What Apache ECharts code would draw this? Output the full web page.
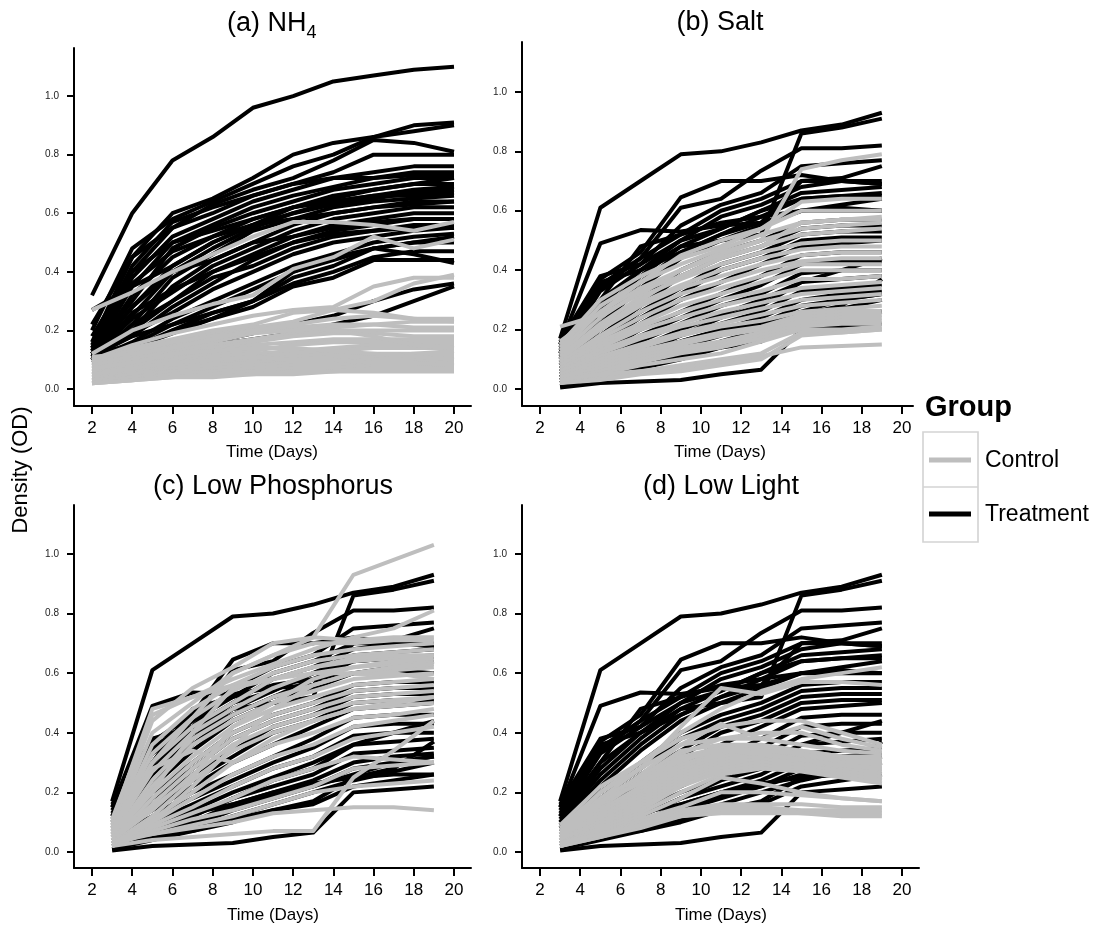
<!DOCTYPE html>
<html><head><meta charset="utf-8">
<script src="https://cdn.jsdelivr.net/npm/echarts@6/dist/echarts.min.js"></script>
<style>html,body{margin:0;padding:0;background:#fff}#c{width:1097px;height:928px}</style>
</head><body><div id="c"></div>
<script>
// ---------- data ----------
const daysA = [2,4,6,8,10,12,14,16,18,20];
const daysBCD = [3,5,7,9,11,13,15,17,19];
const xTicks = [2,4,6,8,10,12,14,16,18,20];
const yTicks = [0,0.2,0.4,0.6,0.8,1.0];
const panelTitles = ['(a) NH', '(b) Salt', '(c) Low Phosphorus', '(d) Low Light'];
const groupNames = ['Control', 'Treatment'];

const treatA = [
 [0.32,0.60,0.78,0.86,0.96,1.00,1.05,1.07,1.09,1.10],
 [0.22,0.45,0.60,0.65,0.72,0.80,0.84,0.86,0.90,0.91],
 [0.20,0.48,0.58,0.64,0.70,0.76,0.80,0.86,0.88,0.90],
 [0.18,0.40,0.55,0.63,0.68,0.72,0.78,0.85,0.84,0.81],
 [0.15,0.42,0.57,0.62,0.66,0.70,0.74,0.80,0.80,0.80],
 [0.14,0.38,0.52,0.58,0.64,0.68,0.72,0.74,0.76,0.76],
 [0.12,0.35,0.50,0.56,0.62,0.66,0.69,0.72,0.74,0.74],
 [0.13,0.30,0.48,0.55,0.60,0.64,0.68,0.70,0.72,0.72],
 [0.12,0.32,0.45,0.52,0.58,0.62,0.66,0.68,0.70,0.70],
 [0.11,0.28,0.42,0.50,0.56,0.60,0.64,0.66,0.68,0.69],
 [0.10,0.25,0.40,0.48,0.55,0.60,0.63,0.65,0.67,0.68],
 [0.10,0.22,0.38,0.46,0.54,0.58,0.62,0.64,0.65,0.66],
 [0.12,0.20,0.35,0.44,0.50,0.56,0.60,0.62,0.64,0.64],
 [0.11,0.24,0.33,0.42,0.48,0.54,0.58,0.60,0.62,0.62],
 [0.10,0.20,0.30,0.40,0.46,0.52,0.56,0.58,0.60,0.60],
 [0.12,0.18,0.28,0.36,0.44,0.50,0.54,0.56,0.58,0.58],
 [0.10,0.22,0.30,0.38,0.42,0.48,0.52,0.54,0.56,0.56],
 [0.11,0.19,0.26,0.34,0.40,0.46,0.50,0.52,0.54,0.55],
 [0.10,0.16,0.24,0.30,0.36,0.42,0.46,0.50,0.52,0.53],
 [0.12,0.15,0.22,0.28,0.34,0.40,0.45,0.48,0.50,0.50],
 [0.11,0.14,0.20,0.26,0.30,0.36,0.40,0.45,0.47,0.47],
 [0.12,0.14,0.19,0.24,0.28,0.35,0.38,0.44,0.44,0.44],
 [0.10,0.13,0.20,0.24,0.30,0.40,0.44,0.48,0.46,0.43],
 [0.09,0.12,0.14,0.16,0.19,0.22,0.25,0.30,0.34,0.36],
 [0.27,0.35,0.42,0.50,0.56,0.62,0.65,0.68,0.70,0.72],
 [0.16,0.45,0.55,0.60,0.66,0.70,0.72,0.72,0.73,0.73],
 [0.14,0.36,0.47,0.52,0.56,0.58,0.60,0.62,0.63,0.64],
 [0.13,0.40,0.50,0.54,0.58,0.62,0.64,0.66,0.66,0.67],
 [0.12,0.28,0.40,0.44,0.50,0.52,0.55,0.57,0.58,0.58],
 [0.10,0.26,0.34,0.40,0.45,0.50,0.53,0.54,0.55,0.55],
 [0.11,0.18,0.22,0.26,0.30,0.38,0.42,0.48,0.50,0.52],
 [0.09,0.11,0.13,0.15,0.17,0.19,0.22,0.25,0.30,0.35]
];

const ctrlA = [
 [0.27,0.33,0.40,0.46,0.52,0.57,0.57,0.56,0.54,0.57],
 [0.12,0.20,0.25,0.29,0.32,0.41,0.45,0.52,0.48,0.51],
 [0.10,0.15,0.19,0.22,0.25,0.27,0.28,0.35,0.38,0.38],
 [0.08,0.12,0.16,0.19,0.21,0.23,0.27,0.30,0.36,0.39],
 [0.10,0.14,0.17,0.20,0.22,0.26,0.27,0.26,0.24,0.24],
 [0.09,0.13,0.15,0.18,0.20,0.22,0.24,0.25,0.24,0.23],
 [0.08,0.11,0.14,0.16,0.19,0.21,0.22,0.22,0.21,0.21],
 [0.07,0.10,0.13,0.15,0.17,0.19,0.20,0.20,0.20,0.20],
 [0.06,0.09,0.12,0.14,0.16,0.18,0.19,0.19,0.18,0.18],
 [0.06,0.08,0.11,0.13,0.15,0.16,0.17,0.17,0.17,0.17],
 [0.05,0.08,0.10,0.12,0.13,0.15,0.16,0.16,0.16,0.16],
 [0.05,0.07,0.09,0.11,0.12,0.13,0.14,0.15,0.15,0.15],
 [0.04,0.06,0.08,0.10,0.11,0.12,0.13,0.14,0.14,0.14],
 [0.04,0.06,0.08,0.09,0.10,0.11,0.12,0.12,0.12,0.13],
 [0.03,0.05,0.07,0.08,0.09,0.10,0.11,0.11,0.12,0.12],
 [0.03,0.05,0.06,0.07,0.08,0.09,0.10,0.10,0.11,0.11],
 [0.03,0.04,0.06,0.07,0.08,0.09,0.09,0.10,0.10,0.10],
 [0.02,0.04,0.05,0.06,0.07,0.08,0.08,0.09,0.09,0.09],
 [0.02,0.03,0.05,0.05,0.06,0.07,0.07,0.08,0.08,0.08],
 [0.02,0.03,0.04,0.05,0.05,0.06,0.06,0.07,0.07,0.07],
 [0.02,0.03,0.04,0.04,0.05,0.05,0.06,0.06,0.06,0.06],
 [0.10,0.13,0.16,0.18,0.19,0.20,0.21,0.22,0.23,0.23],
 [0.11,0.12,0.14,0.17,0.20,0.22,0.20,0.18,0.15,0.14],
 [0.07,0.09,0.12,0.13,0.14,0.14,0.13,0.12,0.11,0.10],
 [0.05,0.07,0.09,0.10,0.11,0.10,0.10,0.09,0.09,0.08]
];

const treatBCD = [
 [0.17,0.61,0.70,0.79,0.80,0.83,0.87,0.89,0.93],
 [0.15,0.49,0.535,0.53,0.55,0.56,0.70,0.70,0.69],
 [0.12,0.30,0.40,0.48,0.50,0.52,0.86,0.88,0.91],
 [0.005,0.02,0.025,0.03,0.05,0.065,0.20,0.21,0.22],
 [0.14,0.37,0.46,0.645,0.70,0.70,0.72,0.70,0.69],
 [0.13,0.35,0.44,0.61,0.64,0.735,0.81,0.81,0.82],
 [0.12,0.33,0.42,0.55,0.62,0.66,0.75,0.76,0.77],
 [0.11,0.30,0.48,0.52,0.60,0.64,0.70,0.71,0.75],
 [0.10,0.28,0.40,0.50,0.58,0.62,0.68,0.70,0.70],
 [0.10,0.26,0.38,0.48,0.54,0.60,0.66,0.67,0.68],
 [0.09,0.24,0.36,0.46,0.52,0.58,0.64,0.65,0.65],
 [0.08,0.22,0.34,0.44,0.50,0.55,0.60,0.60,0.60],
 [0.08,0.20,0.30,0.40,0.46,0.50,0.56,0.57,0.57],
 [0.07,0.18,0.28,0.38,0.44,0.48,0.54,0.55,0.55],
 [0.07,0.16,0.26,0.34,0.42,0.46,0.52,0.53,0.53],
 [0.06,0.15,0.24,0.32,0.40,0.44,0.50,0.51,0.51],
 [0.06,0.14,0.22,0.30,0.36,0.42,0.48,0.49,0.50],
 [0.05,0.12,0.20,0.26,0.32,0.38,0.45,0.46,0.46],
 [0.05,0.11,0.18,0.24,0.30,0.35,0.42,0.43,0.43],
 [0.04,0.10,0.16,0.22,0.28,0.32,0.39,0.40,0.40],
 [0.04,0.09,0.14,0.20,0.25,0.30,0.36,0.37,0.38],
 [0.03,0.08,0.12,0.18,0.22,0.26,0.33,0.34,0.35],
 [0.03,0.07,0.10,0.16,0.20,0.24,0.30,0.32,0.33],
 [0.02,0.06,0.09,0.14,0.18,0.22,0.26,0.30,0.32],
 [0.02,0.05,0.08,0.12,0.16,0.20,0.24,0.27,0.30],
 [0.03,0.06,0.07,0.10,0.14,0.16,0.22,0.24,0.26],
 [0.16,0.38,0.42,0.50,0.54,0.60,0.64,0.65,0.66],
 [0.15,0.36,0.40,0.46,0.52,0.56,0.60,0.62,0.64],
 [0.01,0.04,0.07,0.11,0.14,0.17,0.25,0.28,0.37],
 [0.12,0.34,0.44,0.52,0.56,0.58,0.60,0.61,0.60],
 [0.02,0.05,0.10,0.15,0.19,0.22,0.28,0.30,0.32],
 [0.03,0.07,0.12,0.18,0.24,0.28,0.36,0.40,0.44],
 [0.04,0.10,0.13,0.16,0.20,0.23,0.25,0.26,0.26]
];

const ctrlB = [
 [0.21,0.25,0.32,0.40,0.46,0.50,0.74,0.77,0.79],
 [0.15,0.30,0.38,0.44,0.48,0.54,0.63,0.64,0.64],
 [0.14,0.28,0.36,0.42,0.47,0.52,0.56,0.57,0.58],
 [0.13,0.26,0.34,0.40,0.45,0.50,0.54,0.55,0.56],
 [0.12,0.24,0.33,0.38,0.44,0.48,0.52,0.53,0.54],
 [0.11,0.22,0.31,0.37,0.42,0.46,0.49,0.50,0.50],
 [0.10,0.21,0.29,0.35,0.40,0.44,0.47,0.48,0.48],
 [0.10,0.20,0.28,0.34,0.38,0.42,0.45,0.46,0.46],
 [0.09,0.18,0.26,0.32,0.36,0.40,0.43,0.44,0.44],
 [0.09,0.17,0.24,0.30,0.34,0.38,0.42,0.42,0.42],
 [0.08,0.16,0.22,0.28,0.32,0.36,0.40,0.40,0.40],
 [0.08,0.15,0.21,0.26,0.30,0.33,0.37,0.37,0.38],
 [0.07,0.14,0.20,0.24,0.28,0.31,0.34,0.35,0.36],
 [0.07,0.13,0.18,0.22,0.26,0.29,0.32,0.33,0.34],
 [0.06,0.12,0.17,0.21,0.24,0.27,0.30,0.31,0.32],
 [0.06,0.11,0.15,0.19,0.22,0.25,0.28,0.29,0.30],
 [0.05,0.10,0.14,0.18,0.21,0.23,0.26,0.27,0.28],
 [0.05,0.09,0.13,0.16,0.19,0.21,0.25,0.26,0.26],
 [0.04,0.08,0.12,0.15,0.18,0.20,0.24,0.25,0.25],
 [0.04,0.07,0.11,0.14,0.16,0.19,0.23,0.24,0.24],
 [0.03,0.06,0.10,0.13,0.15,0.18,0.22,0.23,0.23],
 [0.03,0.06,0.09,0.12,0.14,0.17,0.21,0.22,0.22],
 [0.02,0.05,0.08,0.10,0.12,0.16,0.20,0.20,0.21],
 [0.02,0.04,0.06,0.08,0.10,0.12,0.19,0.19,0.20],
 [0.03,0.05,0.06,0.07,0.09,0.11,0.14,0.145,0.15],
 [0.16,0.26,0.36,0.45,0.50,0.54,0.60,0.60,0.60],
 [0.12,0.20,0.30,0.38,0.44,0.48,0.56,0.57,0.57],
 [0.02,0.03,0.05,0.06,0.08,0.10,0.18,0.19,0.20]
];

const ctrlC = [
 [0.08,0.30,0.45,0.60,0.66,0.72,0.93,0.98,1.03],
 [0.10,0.48,0.52,0.58,0.63,0.68,0.72,0.75,0.81],
 [0.09,0.44,0.55,0.62,0.70,0.72,0.71,0.72,0.72],
 [0.08,0.40,0.50,0.60,0.66,0.70,0.70,0.71,0.71],
 [0.07,0.36,0.48,0.56,0.62,0.66,0.68,0.69,0.70],
 [0.07,0.33,0.45,0.54,0.60,0.64,0.66,0.67,0.68],
 [0.06,0.30,0.42,0.50,0.58,0.62,0.64,0.65,0.66],
 [0.06,0.27,0.40,0.48,0.55,0.60,0.62,0.63,0.64],
 [0.05,0.24,0.38,0.46,0.52,0.56,0.60,0.61,0.62],
 [0.05,0.22,0.36,0.44,0.50,0.54,0.58,0.59,0.60],
 [0.05,0.20,0.32,0.42,0.48,0.52,0.56,0.57,0.58],
 [0.04,0.18,0.30,0.40,0.46,0.50,0.54,0.55,0.56],
 [0.04,0.16,0.28,0.38,0.44,0.48,0.52,0.53,0.54],
 [0.04,0.14,0.26,0.36,0.42,0.46,0.50,0.51,0.52],
 [0.03,0.12,0.24,0.34,0.40,0.44,0.48,0.49,0.50],
 [0.03,0.11,0.20,0.30,0.36,0.40,0.45,0.46,0.48],
 [0.03,0.10,0.18,0.26,0.32,0.36,0.42,0.44,0.46],
 [0.02,0.09,0.15,0.22,0.28,0.32,0.38,0.40,0.42],
 [0.02,0.08,0.13,0.18,0.24,0.28,0.32,0.31,0.30],
 [0.02,0.07,0.11,0.14,0.18,0.22,0.28,0.29,0.30],
 [0.03,0.06,0.09,0.12,0.16,0.20,0.22,0.23,0.24],
 [0.04,0.06,0.08,0.10,0.13,0.14,0.15,0.15,0.14],
 [0.02,0.04,0.05,0.06,0.07,0.07,0.25,0.34,0.44],
 [0.11,0.46,0.52,0.56,0.58,0.60,0.60,0.60,0.58],
 [0.06,0.20,0.40,0.55,0.58,0.62,0.65,0.66,0.66],
 [0.05,0.15,0.25,0.42,0.50,0.58,0.62,0.64,0.65],
 [0.03,0.10,0.22,0.35,0.48,0.56,0.60,0.62,0.63],
 [0.08,0.28,0.34,0.30,0.38,0.44,0.48,0.50,0.52]
];

const ctrlD = [
 [0.08,0.20,0.30,0.40,0.48,0.54,0.58,0.60,0.62],
 [0.07,0.18,0.28,0.42,0.55,0.53,0.57,0.57,0.56],
 [0.07,0.16,0.26,0.36,0.43,0.38,0.42,0.38,0.35],
 [0.06,0.15,0.24,0.33,0.38,0.38,0.36,0.34,0.33],
 [0.06,0.14,0.22,0.30,0.36,0.36,0.34,0.32,0.31],
 [0.05,0.13,0.21,0.29,0.34,0.35,0.33,0.31,0.30],
 [0.05,0.12,0.20,0.28,0.33,0.34,0.32,0.30,0.29],
 [0.05,0.12,0.19,0.27,0.32,0.33,0.31,0.29,0.28],
 [0.04,0.11,0.18,0.26,0.31,0.32,0.30,0.28,0.27],
 [0.04,0.10,0.17,0.25,0.30,0.31,0.30,0.28,0.26],
 [0.04,0.10,0.16,0.24,0.29,0.30,0.29,0.27,0.25],
 [0.03,0.09,0.15,0.23,0.28,0.30,0.29,0.27,0.25],
 [0.03,0.08,0.14,0.22,0.27,0.29,0.28,0.26,0.24],
 [0.03,0.08,0.13,0.20,0.26,0.28,0.27,0.25,0.23],
 [0.03,0.07,0.12,0.18,0.25,0.23,0.20,0.18,0.17],
 [0.02,0.06,0.11,0.15,0.20,0.20,0.19,0.18,0.17],
 [0.02,0.06,0.10,0.14,0.16,0.16,0.16,0.15,0.15],
 [0.02,0.05,0.09,0.13,0.15,0.15,0.14,0.14,0.14],
 [0.02,0.05,0.08,0.12,0.14,0.14,0.13,0.13,0.13],
 [0.03,0.06,0.09,0.12,0.13,0.13,0.13,0.12,0.12],
 [0.09,0.22,0.30,0.38,0.42,0.44,0.44,0.40,0.36],
 [0.06,0.20,0.28,0.36,0.38,0.40,0.40,0.36,0.34],
 [0.05,0.18,0.25,0.34,0.36,0.35,0.34,0.32,0.32],
 [0.04,0.16,0.24,0.32,0.35,0.34,0.33,0.30,0.30],
 [0.04,0.17,0.23,0.31,0.34,0.33,0.31,0.29,0.28]
];

// ---------- layout / style ----------
const GRAY = '#bebebe', BLACK = '#000000';
const FONT = "'Liberation Sans', Arial, sans-serif";
const panels = [
  {grid:{left:74,top:48,width:397,height:358}, x:[1.105,20.845], y:[-0.058,1.164], days:daysA, ctrl:ctrlA, trt:treatA, cx:272, ty:24, lx:452},
  {grid:{left:522,top:42,width:391,height:364}, x:[1.105,20.55], y:[-0.0572,1.168], days:daysBCD, ctrl:ctrlB, trt:treatBCD, cx:720, ty:23, lx:452},
  {grid:{left:74,top:505,width:397,height:363}, x:[1.105,20.845], y:[-0.0537,1.164], days:daysBCD, ctrl:ctrlC, trt:treatBCD, cx:273, ty:487, lx:915},
  {grid:{left:522,top:505,width:397,height:363}, x:[1.105,20.845], y:[-0.0537,1.164], days:daysBCD, ctrl:ctrlD, trt:treatBCD, cx:721, ty:487, lx:915}
];

const grids=[], xAxes=[], yAxes=[], series=[], graphics=[];
panels.forEach((p,i)=>{
  grids.push(Object.assign({outerBoundsMode:'none'}, p.grid));
  xAxes.push({type:'value', gridIndex:i, min:p.x[0], max:p.x[1],
    axisLine:{show:true,onZero:false,lineStyle:{color:'#000',width:2}},
    axisTick:{show:true,customValues:xTicks,length:8,lineStyle:{color:'#000',width:2}},
    axisLabel:{customValues:xTicks,fontSize:17,color:'#000',fontFamily:FONT,margin:14},
    splitLine:{show:false}});
  yAxes.push({type:'value', gridIndex:i, min:p.y[0], max:p.y[1],
    axisLine:{show:true,onZero:false,lineStyle:{color:'#000',width:2}},
    axisTick:{show:true,customValues:yTicks,length:7,lineStyle:{color:'#000',width:2}},
    axisLabel:{customValues:yTicks,fontSize:10,color:'#222',fontFamily:FONT,margin:15,formatter:v=>v.toFixed(1)},
    splitLine:{show:false}});
  const mk = (vals,color,name)=>({type:'line', name, xAxisIndex:i, yAxisIndex:i, symbol:'none', showSymbol:false,
     silent:true, animation:false, lineStyle:{color,width:4,join:'round'},
     data:p.days.map((d,k)=>[d, vals[k]])});
  // treatment lines drawn first, control lines on top (as in the reference)
  p.trt.forEach(v=>series.push(mk(v,BLACK,groupNames[1])));
  p.ctrl.forEach(v=>series.push(mk(v,GRAY,groupNames[0])));
  graphics.push({type:'text', x:p.cx, y:p.lx, style:{text:'Time (Days)', fontSize:17, fontFamily:FONT, fill:'#000', align:'center', verticalAlign:'middle'}});
});

// titles
graphics.push({type:'text', x:227, y:24, style:{text:panelTitles[0], fontSize:27, fontFamily:FONT, fill:'#000', align:'left', verticalAlign:'middle'}});
graphics.push({type:'text', x:306.5, y:33, style:{text:'4', fontSize:18, fontFamily:FONT, fill:'#000', align:'left', verticalAlign:'middle'}});
[1,2,3].forEach(i=>{
  graphics.push({type:'text', x:panels[i].cx, y:panels[i].ty, style:{text:panelTitles[i], fontSize:27, fontFamily:FONT, fill:'#000', align:'center', verticalAlign:'middle'}});
});
// y name
graphics.push({type:'text', x:21, y:470, rotation:Math.PI/2, style:{text:'Density (OD)', fontSize:22, fontFamily:FONT, fill:'#000', align:'center', verticalAlign:'middle'}});
// legend
graphics.push({type:'text', x:925, y:408, style:{text:'Group', fontSize:29, fontWeight:'bold', fontFamily:FONT, fill:'#000', align:'left', verticalAlign:'middle'}});
graphics.push({type:'rect', shape:{x:923,y:432,width:55,height:110}, style:{fill:'none', stroke:'#d3d3d3', lineWidth:1.6}});
graphics.push({type:'line', shape:{x1:923,y1:487,x2:978,y2:487}, style:{stroke:'#d3d3d3', lineWidth:1.6}});
graphics.push({type:'line', shape:{x1:929,y1:460,x2:971,y2:460}, style:{stroke:GRAY, lineWidth:5}});
graphics.push({type:'line', shape:{x1:929,y1:514,x2:971,y2:514}, style:{stroke:BLACK, lineWidth:5}});
graphics.push({type:'text', x:985, y:461, style:{text:groupNames[0], fontSize:23, fontFamily:FONT, fill:'#000', align:'left', verticalAlign:'middle'}});
graphics.push({type:'text', x:985, y:515, style:{text:groupNames[1], fontSize:23, fontFamily:FONT, fill:'#000', align:'left', verticalAlign:'middle'}});

const chart = echarts.init(document.getElementById('c'), null, {renderer:'canvas'});
chart.setOption({animation:false, backgroundColor:'#fff', grid:grids, xAxis:xAxes, yAxis:yAxes, series, graphic:graphics});
</script></body></html>
